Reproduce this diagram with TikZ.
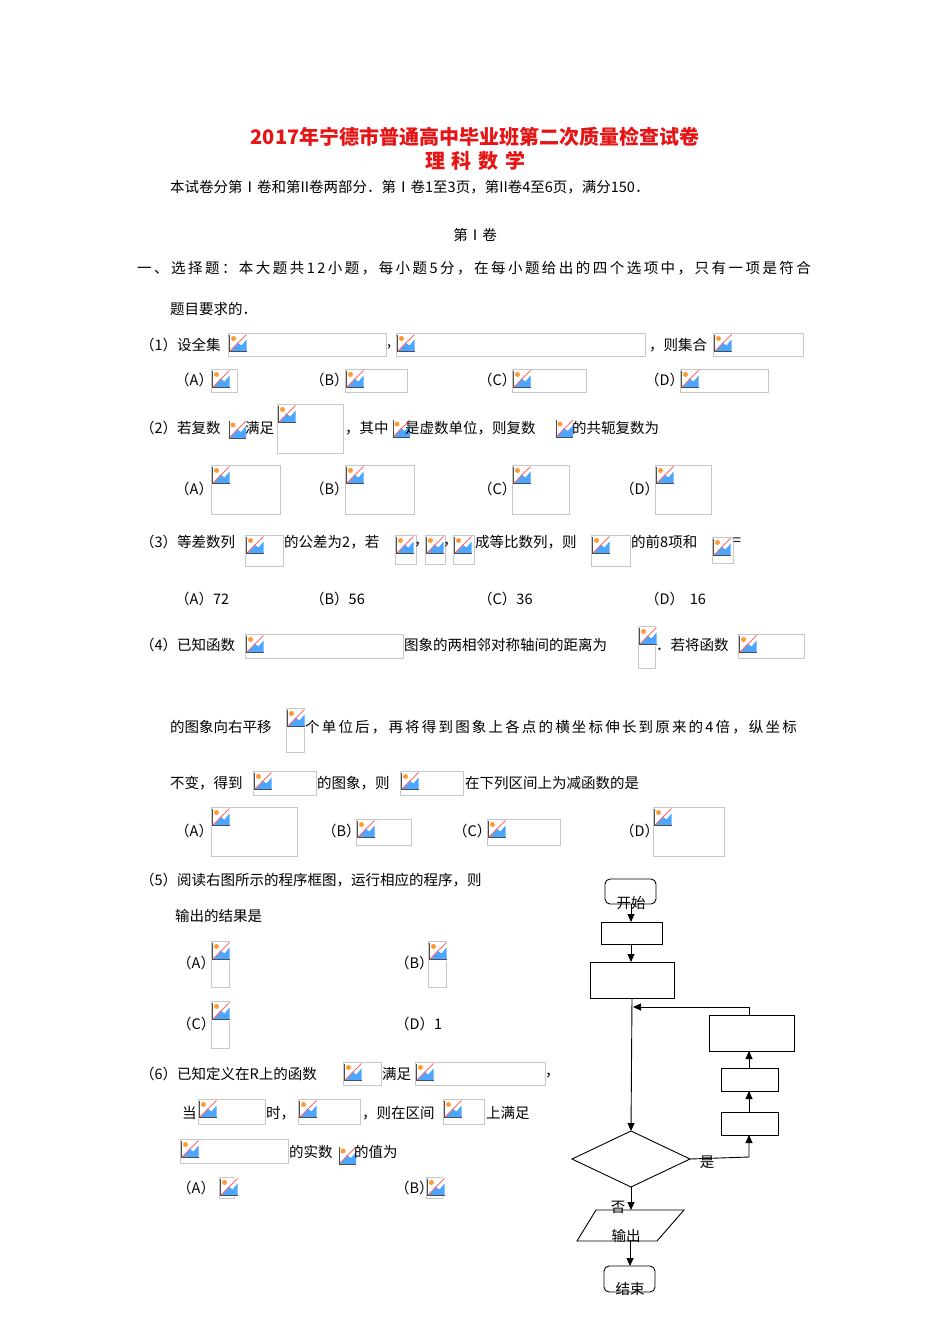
\documentclass[tikz,border=0pt]{standalone}
\usepackage{fontspec}
\setmainfont{Noto Sans CJK SC}
\newfontfamily\wideA[LetterSpace=17]{Noto Sans CJK SC}
\newfontfamily\wideB[LetterSpace=15]{Noto Sans CJK SC}
\usetikzlibrary{arrows.meta}
\definecolor{ttl}{RGB}{230,20,20}
\tikzset{
  phbox/.style={draw=black!22,line width=0.8pt},
  tx/.style={anchor=west,inner sep=0pt,font=\fontsize{14.5}{15}\selectfont},
  fbox/.style={draw,line width=0.9pt},
  arr/.style={line width=0.9pt,-{Triangle[length=8pt,width=7pt]}},
  ln/.style={line width=0.9pt},
  icon/.pic={
    \fill[white] (0,0) rectangle (19,19);
    \fill[blue!50!cyan!70] (2,18) -- (9,9) -- (13,12) -- (18,6) -- (18,18) -- cycle;
    \fill[orange!80] (5,5) circle (2.5);
    \draw[red!60,line width=1pt] (1,18) -- (18,1);
    \draw[black!70,line width=0.9pt] (1,1) -- (1,18) -- (18,18);
  }
}
\newcommand{\ph}[4]{\draw[phbox] (#1,#2) rectangle (#3,#4); \pic at (#1+0.5,#2+0.5) {icon};}
\newcommand{\ic}[2]{\pic at (#1,#2) {icon};}
\begin{document}
\begin{tikzpicture}[x=1pt,y=-1pt]
\useasboundingbox (0,0) rectangle (950,1344);
\fill[white] (0,0) rectangle (950,1344);
% title
\node[text=ttl,font=\fontsize{20}{20}\selectfont\bfseries] (t1) at (475,137) {2017年宁德市普通高中毕业班第二次质量检查试卷};
\node[text=ttl,font=\fontsize{20}{20}\selectfont\bfseries] (t2) at (475,161) {理\,\,科\,\,数\,\,学};
\node[tx] (l0) at (170,187) {本试卷分第Ⅰ卷和第II卷两部分．第Ⅰ卷1至3页，第II卷4至6页，满分150．};
\node[tx,anchor=center] (l1) at (475,235) {第Ⅰ卷};
\node[tx] (l2) at (137,268) {\wideA 一、选择题：本大题共12小题，每小题5分，在每小题给出的四个选项中，只有一项是符合};
\node[tx] (l3) at (170,309) {题目要求的．};
% (1)
\node[tx] (q1) at (140,345) {（1）设全集};
\ph{228}{333}{386}{356}
\node[tx] (q1b) at (387,347) {,};
\ph{396}{333}{645}{356}
\node[tx] (q1c) at (649,345) {，则集合};
\ph{713}{333}{803}{356}
\node[tx] (a1) at (175,380) {（A）}; \ph{211}{369}{237}{392}
\node[tx] (b1) at (310,380) {（B）}; \ph{345}{369}{407}{392}
\node[tx] (c1) at (478,380) {（C）}; \ph{512}{369}{586}{392}
\node[tx] (d1) at (645,380) {（D）}; \ph{680}{369}{768}{392}
% (2)
\node[tx] (q2) at (140,428) {（2）若复数};
\ic{228}{420}
\node[tx] (q2b) at (245,428) {满足};
\ph{277}{404}{343}{453}
\node[tx] (q2c) at (345,428) {，其中};
\ic{392}{419}
\node[tx] (q2d) at (405,428) {是虚数单位，则复数};
\ic{555}{419}
\node[tx] (q2e) at (572,428) {的共轭复数为};
\node[tx] (a2) at (175,489) {（A）}; \ph{211}{465}{280}{514}
\node[tx] (b2) at (310,489) {（B）}; \ph{345}{465}{414}{514}
\node[tx] (c2) at (478,489) {（C）}; \ph{512}{465}{569}{514}
\node[tx] (d2) at (620,489) {（D）}; \ph{655}{465}{711}{514}
% (3)
\node[tx] (q3) at (140,542) {（3）等差数列};
\ph{245}{535}{283}{566}
\node[tx] (q3b) at (284,542) {的公差为2，若};
\ph{395}{535}{416}{564}
\node[tx] (q3c) at (414,545) {，};
\ph{425}{535}{445}{564}
\node[tx] (q3d) at (443,545) {，};
\ph{453}{535}{474}{564}
\node[tx] (q3e) at (475,542) {成等比数列，则};
\ph{591}{535}{630}{566}
\node[tx] (q3f) at (631,542) {的前8项和};
\ph{712}{537}{733}{563}
\node[tx] (q3g) at (733,542) {=};
\node[tx] (a3) at (175,599) {（A）72};
\node[tx] (b3) at (310,599) {（B）56};
\node[tx] (c3) at (478,599) {（C）36};
\node[tx] (d3) at (645,599) {（D）\, 16};
% (4)
\node[tx] (q4) at (140,645) {（4）已知函数};
\ph{245}{634}{403}{658}
\node[tx] (q4b) at (404,645) {图象的两相邻对称轴间的距离为};
\ph{638}{626}{655}{668}
\node[tx] (q4c) at (656,645) {．若将函数};
\ph{738}{634}{804}{658}
\node[tx] (q4d) at (170,727) {的图象向右平移};
\ph{286}{708}{304}{752}
\node[tx] (q4e) at (305,727) {\wideB 个单位后，再将得到图象上各点的横坐标伸长到原来的4倍，纵坐标};
\node[tx] (q4f) at (170,783) {不变，得到};
\ph{253}{771}{316}{795}
\node[tx] (q4g) at (317,783) {的图象，则};
\ph{400}{771}{463}{795}
\node[tx] (q4h) at (465,783) {在下列区间上为减函数的是};
\node[tx] (a4) at (175,831) {（A）}; \ph{211}{807}{297}{856}
\node[tx] (b4) at (322,831) {（B）}; \ph{356}{819}{411}{845}
\node[tx] (c4) at (453,831) {（C）}; \ph{487}{819}{560}{845}
\node[tx] (d4) at (620,831) {（D）}; \ph{653}{807}{724}{856}
% (5)
\node[tx] (q5) at (140,880) {（5）阅读右图所示的程序框图，运行相应的程序，则};
\node[tx] (q5b) at (175,916) {输出的结果是};
\node[tx] (a5) at (177,963) {（A）}; \ph{211}{941}{229}{987}
\node[tx] (b5) at (395,963) {（B）}; \ph{428}{941}{446}{987}
\node[tx] (c5) at (177,1024) {（C）}; \ph{211}{1001}{229}{1048}
\node[tx] (d5) at (395,1024) {（D）1};
% (6)
\node[tx] (q6) at (140,1074) {（6）已知定义在R上的函数};
\ph{343}{1062}{381}{1085}
\node[tx] (q6b) at (382,1074) {满足};
\ph{415}{1062}{545}{1085}
\node[tx] (q6c) at (545,1076) {，};
\node[tx] (q6d) at (182,1113) {当};
\ph{198}{1099}{265}{1124}
\node[tx] (q6e) at (266,1113) {时，};
\ph{298}{1099}{360}{1124}
\node[tx] (q6f) at (362,1113) {，则在区间};
\ph{443}{1099}{484}{1124}
\node[tx] (q6g) at (486,1113) {上满足};
\ph{180}{1139}{288}{1163}
\node[tx] (q6h) at (289,1152) {的实数};
\ic{338}{1146}
\node[tx] (q6i) at (354,1152) {的值为};
\node[tx] (a6) at (177,1188) {（A）}; \ph{219}{1177}{234}{1198}
\node[tx] (b6) at (395,1188) {（B）}; \ph{426}{1177}{442}{1198}
% flowchart
\draw[fbox,rounded corners=5pt] (605,879) rectangle (656,904);
\node[tx,anchor=center] (st) at (631,903) {开始};
\coordinate (stb) at (631,904);
\draw[fbox] (601,922) rectangle (662,944);
\coordinate (b1t) at (631,922); \coordinate (b1b) at (631,944);
\draw[fbox] (590,962) rectangle (674,998);
\coordinate (b2t) at (631,962); \coordinate (b2b) at (632,998);
\draw[arr] (stb) -- (b1t);
\draw[arr] (b1b) -- (b2t);
\draw[fbox] (572,1159) -- (631,1131) -- (690,1159) -- (631,1187) -- cycle;
\coordinate (dt) at (631,1131); \coordinate (dr) at (690,1159); \coordinate (db) at (631,1187);
\draw[arr] (b2b) -- (dt);
\draw[fbox] (721,1112) rectangle (778,1135);
\draw[fbox] (721,1068) rectangle (778,1091);
\draw[fbox] (709,1015) rectangle (794,1051);
\draw[arr] (dr) -- (749,1157) -- (749,1135);
\draw[arr] (749,1112) -- (749,1091);
\draw[arr] (749,1068) -- (749,1051);
\draw[arr] (749,1015) -- (749,1007) -- (633,1007);
\node[tx,anchor=center] (yes) at (707,1162) {是};
\node[tx,anchor=center] (no) at (618,1207) {否};
\draw[fbox] (596,1210) -- (684,1210) -- (657,1241) -- (577,1241) -- cycle;
\node[tx,anchor=center] (out) at (626,1236) {输出};
\draw[arr] (db) -- (631,1210);
\draw[fbox,rounded corners=5pt] (604,1266) rectangle (655,1292);
\node[tx,anchor=center] (en) at (630,1289) {结束};
\draw[arr] (630,1241) -- (630,1266);
\end{tikzpicture}
\end{document}
